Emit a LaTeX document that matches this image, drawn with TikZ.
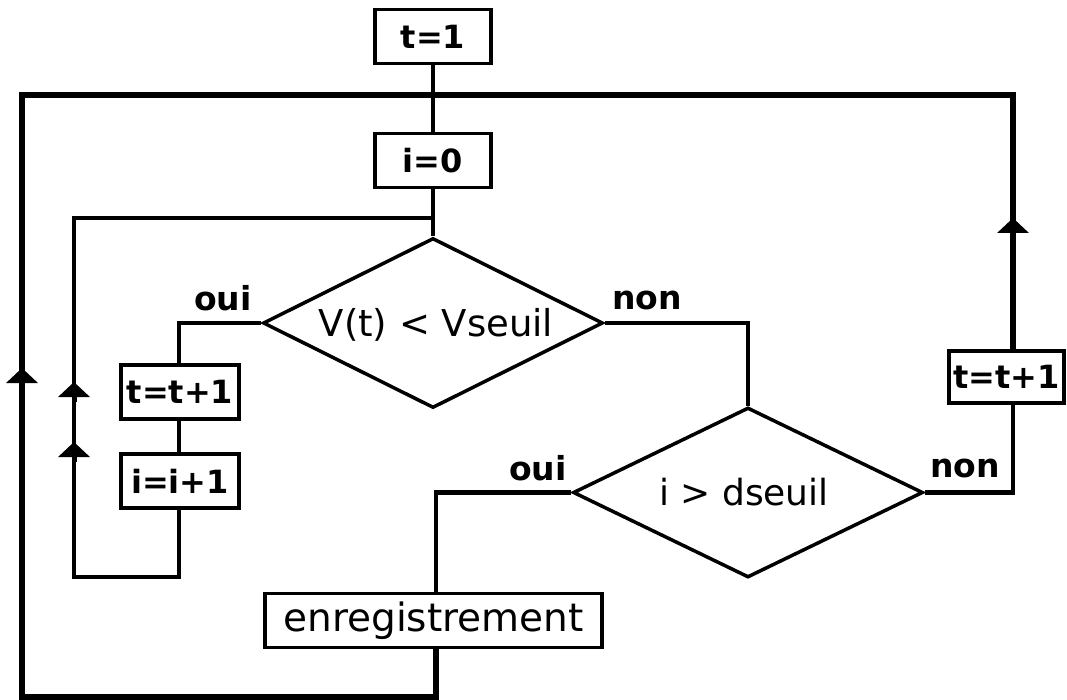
\documentclass[tikz,border=0pt]{standalone}
\usepackage{fontspec}
\setmainfont{DejaVu Sans}
\usetikzlibrary{shapes.geometric,arrows.meta}
\begin{document}
\begin{tikzpicture}[x=1pt,y=-1pt,
  boxst/.style={draw,line width=3.2pt,inner sep=0pt,minimum height=54pt,font=\fontsize{32}{38}\selectfont\bfseries},
  diast/.style={draw,shape=diamond,line width=3.5pt,inner sep=0pt,minimum width=340pt,minimum height=170pt},
  diatext/.style={font=\fontsize{37}{44}\selectfont},
  lab/.style={font=\fontsize{33}{38}\selectfont\bfseries},
  conn/.style={line width=4.8pt},
  loopst/.style={line width=5.8pt,line join=miter},
  uparr/.style={line width=5pt,-{Triangle[width=31pt,length=15pt]}}]
\useasboundingbox (0,0) rectangle (1067,700);
% nodes
\node[boxst,minimum width=116pt] (t1) at (433,36.5) {t=1};
\node[boxst,minimum width=116pt] (i0) at (433,160.5) {i=0};
\node[diast] (d1) at (433,323) {};
\node[diatext] (d1t) at (436,325) {V(t) < Vseuil};
\node[boxst,minimum width=118pt] (tt1) at (180,392) {t=t+1};
\node[boxst,minimum width=118pt] (ii1) at (180,481) {i=i+1};
\node[diast,minimum width=350pt] (d2) at (748,492.5) {};
\node[diatext,font=\fontsize{36}{42}\selectfont] (d2t) at (744,492) {i > dseuil};
\node[boxst,minimum width=337pt,font=\fontsize{39}{46}\selectfont] (en) at (433.5,620.5) {enregistrement};
\node[boxst,minimum width=115pt,minimum height=52pt] (tt2) at (1006.5,377) {t=t+1};
% labels
\node[lab] (oui1) at (223,298) {oui};
\node[lab] (non1) at (647,300) {non};
\node[lab] (oui2) at (538,468) {oui};
\node[lab] (non2) at (965,468) {non};
% helper coordinates
\coordinate (topL) at (22,95);
\coordinate (topR) at (1013,95);
\coordinate (botL) at (22,697);
\coordinate (botM) at (436,697);
\coordinate (inTL) at (74,218);
\coordinate (inJ) at (433,218);
\coordinate (inBL) at (74,577);
\coordinate (inBR) at (179,577);
\coordinate (d1L) at (179,323);
\coordinate (d1R) at (748,323);
\coordinate (d2L) at (436,492.5);
\coordinate (d2R) at (1013,492.5);
% connectors
\draw[conn] (t1.south) -- (i0.north);
\draw[conn] (i0.south) -- (d1.north);
\draw[loopst] (en.south -| botM) -- (botM) -- (botL) -- (topL) -- (topR) -- (tt2.north -| topR);
\draw[conn] (inJ) -- (inTL) -- (inBL) -- (inBR) -- (ii1.south -| inBR);
\draw[conn] (d1.west) -- (d1L) -- (tt1.north -| d1L);
\draw[conn] (tt1.south -| d1L) -- (ii1.north -| d1L);
\draw[conn] (d1.east) -- (d1R) -- (d2.north);
\draw[conn] (d2.west) -- (d2L) -- (en.north -| d2L);
\draw[conn] (d2.east) -- (d2R) -- (tt2.south -| d2R);
% arrowheads
\coordinate (a1) at (22,368);
\coordinate (a2) at (74,382);
\coordinate (a3) at (74,442);
\coordinate (a4) at (1013,218);
\draw[uparr] ([yshift=-20pt]a1) -- (a1);
\draw[uparr] ([yshift=-20pt]a2) -- (a2);
\draw[uparr] ([yshift=-20pt]a3) -- (a3);
\draw[uparr] ([yshift=-20pt]a4) -- (a4);
\end{tikzpicture}
\end{document}
